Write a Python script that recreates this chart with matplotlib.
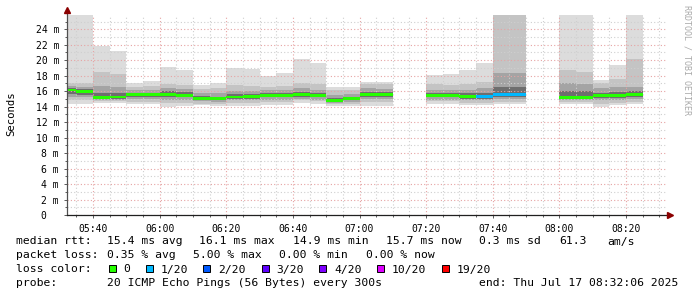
import matplotlib
matplotlib.use("Agg")
import matplotlib.pyplot as plt
from matplotlib.patches import Rectangle
from matplotlib.ticker import FixedLocator, MultipleLocator
import numpy as np

nan = np.nan

# 5-minute steps (start time of each step)
step_times = [
    "05:30", "05:35", "05:40", "05:45", "05:50", "05:55", "06:00", "06:05",
    "06:10", "06:15", "06:20", "06:25", "06:30", "06:35", "06:40", "06:45",
    "06:50", "06:55", "07:00", "07:05", "07:10", "07:15", "07:20", "07:25",
    "07:30", "07:35", "07:40", "07:45", "07:50", "07:55", "08:00", "08:05",
    "08:10", "08:15", "08:20",
]

# smoke bands in ms (outer -> inner), median and lost pings out of 20
rtt_max = [27, 27, 21.8, 21.2, 17.0, 17.3, 19.1, 18.7, 16.8, 17.1, 19.0, 18.9,
           18.0, 18.3, 20.2, 19.7, 16.5, 16.5, 17.2, 17.2, nan, nan, 18.1, 18.2,
           18.7, 19.7, 27, 27, nan, nan, 27, 27, 17.4, 19.4, 27]
rtt_hi1 = [17.1, 17.0, 18.5, 18.2, 16.6, 16.7, 16.9, 16.8, 16.3, 16.4, 16.8, 16.7,
           16.6, 16.7, 17.1, 16.9, 16.1, 16.2, 16.9, 16.9, nan, nan, 16.9, 16.8,
           16.9, 17.2, 26.5, 26.5, nan, nan, 18.7, 18.5, 17.0, 17.6, 20.1]
rtt_hi2 = [16.7, 16.6, 16.7, 16.6, 16.1, 16.1, 16.4, 16.3, 15.8, 15.8, 16.0, 16.0,
           16.1, 16.1, 16.4, 16.2, 15.5, 15.6, 16.4, 16.3, nan, nan, 16.2, 16.1,
           16.1, 16.4, 18.3, 18.3, nan, nan, 17.0, 16.9, 16.4, 16.5, 16.5]
rtt_hi3 = [16.4, 16.3, 15.7, 15.7, 15.8, 15.8, 16.0, 15.9, 15.4, 15.3, 15.6, 15.6,
           15.8, 15.8, 15.9, 15.8, 15.1, 15.3, 15.9, 15.9, nan, nan, 15.8, 15.7,
           15.7, 15.8, 16.5, 16.5, nan, nan, 16.0, 16.0, 15.8, 15.9, 16.0]
rtt_lo3 = [15.6, 15.5, 15.0, 15.0, 15.3, 15.3, 15.3, 15.2, 14.9, 14.8, 15.0, 15.0,
           15.2, 15.2, 15.3, 15.2, 14.7, 14.8, 15.3, 15.3, nan, nan, 15.2, 15.2,
           15.0, 15.0, 15.3, 15.3, nan, nan, 15.0, 15.0, 15.1, 15.1, 15.3]
rtt_lo2 = [15.3, 15.2, 14.85, 14.85, 15.0, 15.0, 14.9, 14.9, 14.7, 14.6, 14.8, 14.8,
           14.9, 14.9, 15.0, 14.9, 14.5, 14.6, 15.0, 15.0, nan, nan, 14.9, 14.9,
           14.8, 14.8, 15.0, 15.0, nan, nan, 14.8, 14.8, 14.8, 14.8, 15.0]
rtt_lo1 = [14.8, 14.8, 14.7, 14.7, 14.6, 14.6, 14.5, 14.5, 14.4, 14.4, 14.5, 14.5,
           14.6, 14.6, 14.8, 14.7, 14.3, 14.4, 14.6, 14.6, nan, nan, 14.7, 14.7,
           14.5, 14.5, 14.6, 14.6, nan, nan, 14.6, 14.6, 14.3, 14.5, 14.6]
rtt_min = [14.4, 14.4, 14.5, 14.5, 14.3, 14.3, 14.0, 14.1, 14.2, 14.1, 14.1, 14.1,
           14.2, 14.2, 14.5, 14.4, 14.1, 14.1, 14.1, 14.1, nan, nan, 14.4, 14.4,
           14.2, 14.2, 14.3, 14.3, nan, nan, 14.3, 14.3, 13.9, 14.2, 14.3]
rtt_median = [16.15, 16.0, 15.2, 15.25, 15.55, 15.55, 15.6, 15.5, 15.1, 15.0, 15.25, 15.3,
              15.45, 15.5, 15.55, 15.45, 14.85, 15.05, 15.6, 15.6, nan, nan, 15.4, 15.4,
              15.3, 15.3, 15.55, 15.55, nan, nan, 15.2, 15.2, 15.4, 15.4, 15.6]
lost_pings = [0, 0, 0, 0, 0, 0, 0, 0, 0, 0, 0, 0, 0, 0, 0, 0, 0, 0, 0, 0, 0, 0, 0, 0,
              0, 1, 1, 1, 0, 0, 0, 0, 0, 0, 0]

loss_labels = ["0", "1/20", "2/20", "3/20", "4/20", "10/20", "19/20"]
loss_levels = [0, 1, 2, 3, 4, 10, 19]
loss_colors = ["#26ff00", "#00b8ff", "#0059ff", "#5e00ff", "#7e00ff", "#dd00ff", "#ff0000"]

median_stats = ["15.4 ms avg", "16.1 ms max", "14.9 ms min", "15.7 ms now", "0.3 ms sd"]
loss_stats = ["0.35 % avg", "5.00 % max", "0.00 % min", "0.00 % now"]
probe_text = "20 ICMP Echo Pings (56 Bytes) every 300s"
end_text = "end: Thu Jul 17 08:32:06 2025"
end_time = "08:32:06"

x_ticks = ["05:40", "06:00", "06:20", "06:40", "07:00", "07:20", "07:40", "08:00", "08:20"]
y_ticks = [0, 2, 4, 6, 8, 10, 12, 14, 16, 18, 20, 22, 24]


def minutes(t):
    parts = [int(p) for p in t.split(":")]
    while len(parts) < 3:
        parts.append(0)
    return parts[0] * 60 + parts[1] + parts[2] / 60.0


W, H = 697, 297
plt.rcParams["font.family"] = "DejaVu Sans Mono"

fig = plt.figure(figsize=(W / 100, H / 100), dpi=100)
fig.patch.set_facecolor("white")
left, right, top, bottom = 66.7, 666.3, 14.7, 215.0
ax = fig.add_axes([left / W, 1 - bottom / H, (right - left) / W, (bottom - top) / H])

starts = np.array([minutes(t) for t in step_times])
x_end = minutes(end_time)
ax.set_xlim(x_end - 180, x_end)
ax.set_ylim(0, 25.88)

valid = ~np.isnan(np.array(rtt_median))
bands = [
    (rtt_min, rtt_max, "#dcdcdc"),
    (rtt_lo1, rtt_hi1, "#c4c4c4"),
    (rtt_lo2, rtt_hi2, "#a4a4a4"),
    (rtt_lo3, rtt_hi3, "#6e6e6e"),
]
for lo, hi, color in bands:
    lo = np.array(lo)[valid]
    hi = np.array(hi)[valid]
    ax.bar(starts[valid], hi - lo, bottom=lo, width=5, align="edge",
           color=color, linewidth=0, antialiased=False, zorder=1)

med = np.array(rtt_median)[valid]
med_colors = [loss_colors[max(i for i, lv in enumerate(loss_levels) if lv <= n)]
              for n in np.array(lost_pings)[valid]]
ax.bar(starts[valid], 0.38, bottom=med - 0.19, width=5, align="edge",
       color=med_colors, linewidth=0, antialiased=False, zorder=3)

# ticks and grid
ax.xaxis.set_major_locator(FixedLocator([minutes(t) for t in x_ticks]))
ax.set_xticklabels(x_ticks)
ax.xaxis.set_minor_locator(MultipleLocator(5))
ax.yaxis.set_major_locator(FixedLocator(y_ticks))
ax.set_yticklabels(["%d m" % v if v else "0  " for v in y_ticks])
ax.yaxis.set_minor_locator(MultipleLocator(1))
ax.grid(which="major", color="#e6a3a3", linestyle=(0, (1, 2)), linewidth=0.8, zorder=2)
ax.grid(which="minor", color="#cfcfcf", linestyle=(0, (1, 2)), linewidth=0.8, zorder=2)
ax.set_axisbelow(False)
ax.tick_params(which="major", length=2.5, width=0.6, color="#404040", labelsize=7, pad=3)
ax.tick_params(which="minor", length=1.5, width=0.6, color="#404040")
ax.tick_params(axis="x", pad=4)

for s in ax.spines.values():
    s.set_visible(False)
ax.plot([0, 0], [0, 1.02], transform=ax.transAxes, color="#505050", lw=0.9,
        clip_on=False, zorder=4)
ax.plot([0, 1.006], [0, 0], transform=ax.transAxes, color="#202020", lw=0.9,
        clip_on=False, zorder=4)
ax.plot([0], [1.022], marker="^", ms=4, color="#8b0000", transform=ax.transAxes,
        clip_on=False, zorder=5)
ax.plot([1.007], [0], marker=">", ms=4, color="#8b0000", transform=ax.transAxes,
        clip_on=False, zorder=5)

fig.text(11 / W, 1 - 114 / H, "Seconds", rotation=90, ha="center", va="center", fontsize=7.7)
fig.text(687 / W, 1 - 60 / H, "RRDTOOL / TOBI OETIKER", rotation=-90, ha="center",
         va="center", fontsize=6, color="#aaaaaa")


def put(x, y, s):
    fig.text(x / W, 1 - y / H, s, ha="left", va="baseline", fontsize=8.2, color="black")


put(16, 244.5, "median rtt:")
for x, s in zip([107.3, 199, 293.3, 385.7, 479], median_stats):
    put(x, 244.5, s)
put(559, 244.5, "61.3")
put(607.6, 244.5, "am/s")

put(16, 258.5, "packet loss:")
for x, s in zip([107.3, 193.3, 279.3, 365.7], loss_stats):
    put(x, 258.5, s)

put(16, 272.5, "loss color:")
box_x = [108.7, 145.7, 203.3, 261.7, 319.3, 377.3, 442]
for bx, label, color in zip(box_x, loss_labels, loss_colors):
    fig.add_artist(Rectangle((bx / W, 1 - 271.5 / H), 6.8 / W, 7 / H,
                             transform=fig.transFigure, facecolor=color,
                             edgecolor="black", linewidth=0.7))
    put(bx + 14.6, 272.5, label)

put(16, 286.5, "probe:")
put(107.3, 286.5, probe_text)
put(478.7, 286.5, end_text)

fig.savefig("out.png", dpi=100, facecolor="white")
